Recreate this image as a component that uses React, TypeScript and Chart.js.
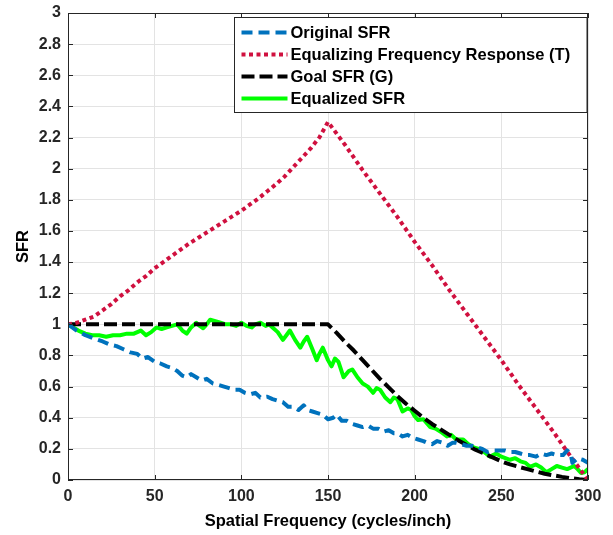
import React, { useEffect, useRef } from "react";
import { Chart, registerables } from "chart.js";

Chart.register(...registerables);

const FONT = "'Liberation Sans', Arial, Helvetica, sans-serif";
const TEXT = "#262626";

const seriesLabels = [
  "Original SFR",
  "Equalizing Frequency Response (T)",
  "Goal SFR (G)",
  "Equalized SFR",
];

const xTicks = [0, 50, 100, 150, 200, 250, 300];
const yTicks = [0, 0.2, 0.4, 0.6, 0.8, 1, 1.2, 1.4, 1.6, 1.8, 2, 2.2, 2.4, 2.6, 2.8, 3];

const origX = [0, 5, 10, 15, 20, 24, 28, 32, 36, 40, 43, 46, 50, 53, 57, 60, 63, 66, 68.5, 71, 74, 77, 80, 83.6, 87, 90, 93, 96, 99, 102, 105, 108, 111, 115, 118, 121, 124, 127, 130, 133, 136, 138, 141, 144, 147, 150, 153, 155, 158, 161, 164, 167, 170, 173, 176, 179, 182, 185, 188, 190, 193, 196, 199, 202, 205, 207, 210, 213, 216, 219, 222, 224, 227, 230, 233, 236, 239, 242, 245, 249, 252, 255, 258, 261, 264, 266.5, 270, 273, 276, 279, 282, 285.6, 288, 290, 291, 294, 297, 300];
const origY = [1.0, 0.96, 0.93, 0.91, 0.89, 0.87, 0.86, 0.84, 0.82, 0.81, 0.78, 0.79, 0.76, 0.75, 0.73, 0.72, 0.7, 0.67, 0.66, 0.68, 0.66, 0.64, 0.65, 0.62, 0.61, 0.6, 0.59, 0.58, 0.58, 0.56, 0.55, 0.56, 0.53, 0.535, 0.52, 0.51, 0.5, 0.47, 0.47, 0.45, 0.48, 0.45, 0.44, 0.43, 0.42, 0.39, 0.4, 0.42, 0.38, 0.38, 0.36, 0.35, 0.34, 0.35, 0.33, 0.33, 0.31, 0.32, 0.3, 0.3, 0.28, 0.29, 0.27, 0.26, 0.25, 0.24, 0.23, 0.25, 0.24, 0.22, 0.24, 0.24, 0.23, 0.22, 0.22, 0.21, 0.2, 0.18, 0.19, 0.19, 0.19, 0.18, 0.18, 0.17, 0.16, 0.16, 0.15, 0.17, 0.16, 0.17, 0.16, 0.16, 0.19, 0.17, 0.11, 0.14, 0.13, 0.11];

const eqRespX = [0, 5, 10, 15, 20, 25, 30, 35, 40, 45, 50, 55, 60, 65, 70, 75, 80, 85, 90, 95, 100, 105, 110, 115, 120, 125, 130, 135, 140, 145, 150, 160, 170, 180, 190, 200, 210, 220, 230, 240, 250, 260, 270, 280, 290, 300];
const eqRespY = [1.0, 1.01, 1.03, 1.05, 1.09, 1.13, 1.18, 1.22, 1.27, 1.31, 1.36, 1.4, 1.44, 1.48, 1.52, 1.555, 1.59, 1.625, 1.66, 1.695, 1.73, 1.77, 1.81, 1.855, 1.9, 1.95, 2.01, 2.07, 2.13, 2.2, 2.3, 2.15, 1.99, 1.84, 1.69, 1.53, 1.38, 1.22, 1.07, 0.92, 0.77, 0.61, 0.46, 0.31, 0.15, 0.0];

const goalX = [0, 150, 155, 160, 165, 170, 175, 180, 185, 190, 195, 200, 205, 210, 215, 220, 225, 230, 235, 240, 245, 250, 255, 260, 265, 270, 275, 280, 285, 290, 295, 300];
const goalY = [1, 1, 0.945, 0.885, 0.83, 0.77, 0.71, 0.65, 0.595, 0.54, 0.49, 0.445, 0.4, 0.36, 0.325, 0.29, 0.255, 0.225, 0.195, 0.17, 0.145, 0.12, 0.1, 0.085, 0.07, 0.055, 0.04, 0.03, 0.02, 0.012, 0.005, 0];

const eqX = [0, 3, 6, 10, 14, 18, 22, 26, 30, 34, 38, 42, 45, 48, 51, 54, 57, 60, 63, 66, 68.5, 71, 74, 76, 78, 80, 82, 85, 88, 91, 94, 97, 100, 103, 106, 108, 111, 114, 116, 118, 121, 124, 126, 128, 131, 134, 136, 138, 141, 143.5, 145, 147, 150, 152, 154, 156, 159, 162, 164, 167, 170, 173, 176, 178, 180, 183, 186, 188, 190, 193, 196, 198, 200, 202, 205, 209, 212, 215, 218.6, 221, 224, 228, 231, 234, 237, 240, 243.5, 247, 250, 255, 258, 261, 264, 266.5, 270, 273, 276, 279, 282, 285, 288, 292, 294, 296, 298, 300];
const eqY = [1.0, 0.98, 0.96, 0.94, 0.93, 0.93, 0.92, 0.93, 0.93, 0.94, 0.94, 0.96, 0.93, 0.95, 0.98, 0.97, 0.98, 0.99, 1.0, 0.96, 0.94, 0.98, 1.01, 0.99, 0.975, 1.0, 1.03, 1.02, 1.01, 1.0, 1.0, 0.99, 1.01, 0.99, 0.98, 1.0, 1.01, 0.99, 1.0, 0.98, 0.95, 0.9, 0.93, 0.96, 0.9, 0.85, 0.89, 0.92, 0.84, 0.77, 0.81, 0.85, 0.77, 0.73, 0.78, 0.76, 0.66, 0.7, 0.71, 0.66, 0.62, 0.6, 0.56, 0.59, 0.58, 0.53, 0.5, 0.53, 0.52, 0.44, 0.46, 0.45, 0.41, 0.385, 0.39, 0.34, 0.33, 0.31, 0.28, 0.29, 0.26, 0.26, 0.23, 0.21, 0.2, 0.18, 0.15, 0.17, 0.15, 0.13, 0.14, 0.12, 0.11, 0.085, 0.1, 0.08, 0.05, 0.07, 0.09, 0.08, 0.07, 0.09, 0.07, 0.045, 0.05, 0.07];

const colors = ["#0072BD", "#D0103F", "#000000", "#00FF00"];
const dashes = [[11, 6], [4, 3.5], [13, 5], []];
const widths = [4, 4, 4, 4];

const pts = (xs: number[], ys: number[]) => xs.map((x, i) => ({ x, y: ys[i] }));

const fmt = (v: number) => String(Number(v.toFixed(1)));

const boxPlugin = {
  id: "matlabBox",
  afterDatasetsDraw(chart: any) {
    const { ctx, chartArea, scales } = chart;
    const { left, right, top, bottom } = chartArea;
    ctx.save();
    ctx.strokeStyle = TEXT;
    ctx.lineWidth = 1;
    ctx.setLineDash([]);
    ctx.strokeRect(left + 0.5, top + 0.5, right - left - 1, bottom - top - 1);
    const tl = 5;
    ctx.beginPath();
    xTicks.forEach((v) => {
      const px = Math.round(scales.x.getPixelForValue(v)) + 0.5;
      ctx.moveTo(px, bottom);
      ctx.lineTo(px, bottom - tl);
      ctx.moveTo(px, top);
      ctx.lineTo(px, top + tl);
    });
    yTicks.forEach((v) => {
      const py = Math.round(scales.y.getPixelForValue(v)) + 0.5;
      ctx.moveTo(left, py);
      ctx.lineTo(left + tl, py);
      ctx.moveTo(right, py);
      ctx.lineTo(right - tl, py);
    });
    ctx.stroke();
    ctx.restore();
  },
};

const legendPlugin = {
  id: "matlabLegend",
  afterDraw(chart: any) {
    const { ctx, chartArea } = chart;
    const bx = 234.5;
    const by = chartArea.top + 4.5;
    const bw = chartArea.right - 1 - bx;
    const bh = 95;
    ctx.save();
    ctx.fillStyle = "#ffffff";
    ctx.fillRect(bx, by, bw, bh);
    ctx.strokeStyle = TEXT;
    ctx.lineWidth = 1;
    ctx.setLineDash([]);
    ctx.strokeRect(bx, by, bw, bh);
    chart.data.datasets.forEach((ds: any, i: number) => {
      const cy = by + 15 + i * 22;
      ctx.beginPath();
      ctx.strokeStyle = ds.borderColor;
      ctx.lineWidth = ds.borderWidth;
      ctx.setLineDash(ds.borderDash || []);
      ctx.moveTo(bx + 7, cy);
      ctx.lineTo(bx + 53, cy);
      ctx.stroke();
      ctx.setLineDash([]);
      ctx.fillStyle = "#000000";
      ctx.font = `bold 16.5px ${FONT}`;
      ctx.textBaseline = "middle";
      ctx.textAlign = "left";
      ctx.fillText(ds.label, bx + 56, cy + 1);
    });
    ctx.restore();
  },
};

export default function App() {
  const ref = useRef<HTMLCanvasElement | null>(null);
  useEffect(() => {
    if (!ref.current) return;
    const sets = [
      pts(origX, origY),
      pts(eqRespX, eqRespY),
      pts(goalX, goalY),
      pts(eqX, eqY),
    ];
    const chart = new Chart(ref.current, {
      type: "line",
      data: {
        datasets: sets.map((d, i) => ({
          label: seriesLabels[i],
          data: d,
          borderColor: colors[i],
          backgroundColor: colors[i],
          borderWidth: widths[i],
          borderDash: dashes[i],
          pointRadius: 0,
          tension: 0,
          fill: false,
          borderCapStyle: "butt",
          borderJoinStyle: "round",
        })),
      },
      options: {
        animation: false,
        responsive: true,
        maintainAspectRatio: false,
        layout: { padding: { left: 0, top: 13, right: 25, bottom: 0 } },
        plugins: { legend: { display: false }, tooltip: { enabled: false } },
        scales: {
          x: {
            type: "linear",
            min: 0,
            max: 300,
            afterBuildTicks: (s: any) => {
              s.ticks = xTicks.map((v) => ({ value: v }));
            },
            afterFit: (s: any) => {
              s.height = 55;
              s.paddingLeft = 0;
              s.paddingRight = 0;
            },
            grid: { color: "#e3e3e3", lineWidth: 1, drawTicks: false },
            border: { display: false },
            ticks: {
              padding: 7,
              color: TEXT,
              font: { family: FONT, size: 16, weight: "bold" },
              callback: (v: any) => fmt(Number(v)),
            },
            title: {
              display: true,
              text: "Spatial Frequency (cycles/inch)",
              color: "#000000",
              font: { family: FONT, size: 16.5, weight: "bold" },
              padding: { top: 0, bottom: 4 },
            },
          },
          y: {
            type: "linear",
            min: 0,
            max: 3,
            afterBuildTicks: (s: any) => {
              s.ticks = yTicks.map((v) => ({ value: v }));
            },
            afterFit: (s: any) => {
              s.width = 68;
              s.paddingTop = 0;
              s.paddingBottom = 0;
            },
            grid: { color: "#e3e3e3", lineWidth: 1, drawTicks: false },
            border: { display: false },
            ticks: {
              padding: 7,
              color: TEXT,
              font: { family: FONT, size: 16, weight: "bold" },
              callback: (v: any) => fmt(Number(v)),
            },
            title: {
              display: true,
              text: "SFR",
              color: "#000000",
              font: { family: FONT, size: 16.5, weight: "bold" },
              padding: { top: 14, bottom: 0 },
            },
          },
        },
      },
      plugins: [boxPlugin, legendPlugin],
    } as any);
    return () => chart.destroy();
  }, []);
  return (
    <div style={{ position: "fixed", left: 0, top: 0, width: 613, height: 535, background: "#fff" }}>
      <canvas ref={ref} />
    </div>
  );
}
